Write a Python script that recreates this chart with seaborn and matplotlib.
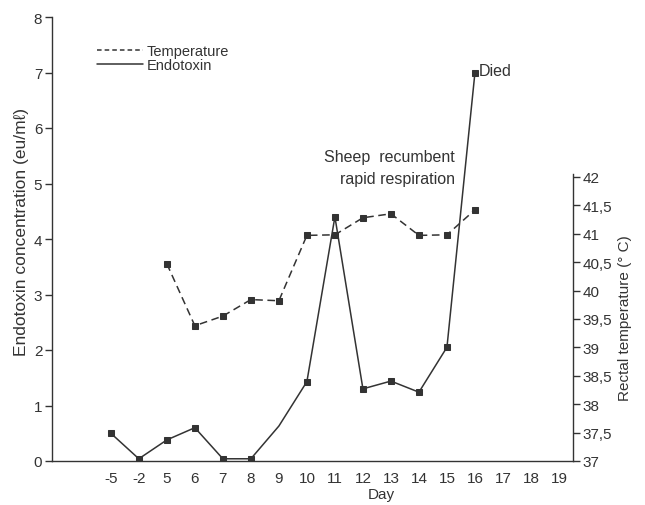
import matplotlib
matplotlib.use("Agg")
import matplotlib.pyplot as plt
import seaborn as sns
import numpy as np
import pandas as pd
from matplotlib.lines import Line2D

# ---- data ----
days = ["-5", "-2", "5", "6", "7", "8", "9", "10", "11", "12", "13", "14", "15", "16", "17", "18", "19"]
endo_days = ["-5", "-2", "5", "6", "7", "8", "9", "10", "11", "12", "13", "14", "15", "16"]
endotoxin = [0.5, 0.04, 0.38, 0.6, 0.04, 0.04, 0.63, 1.43, 4.4, 1.3, 1.44, 1.24, 2.05, 7.0]
endo_marked = [True, True, True, True, True, True, False, True, True, True, True, True, True, True]
temp_days = ["5", "6", "7", "8", "9", "10", "11", "12", "13", "14", "15", "16"]
temperature = [40.47, 39.38, 39.55, 39.84, 39.82, 40.97, 40.98, 41.28, 41.35, 40.97, 40.98, 41.42]
left_ticks = [0, 1, 2, 3, 4, 5, 6, 7, 8]
right_ticks = [37, 37.5, 38, 38.5, 39, 39.5, 40, 40.5, 41, 41.5, 42]
right_ticklabels = ["37", "37,5", "38", "38,5", "39", "39,5", "40", "40,5", "41", "41,5", "42"]

sns.set_theme(style="white")
plt.rcParams["font.family"] = ["Liberation Sans", "DejaVu Sans"]
INK = "#333333"
plt.rcParams["text.color"] = INK
plt.rcParams["axes.labelcolor"] = INK
plt.rcParams["xtick.color"] = INK
plt.rcParams["ytick.color"] = INK

pos = {d: i for i, d in enumerate(days)}
df_e = pd.DataFrame({"x": [pos[d] for d in endo_days], "y": endotoxin})
df_t = pd.DataFrame({"x": [pos[d] for d in temp_days], "y": temperature})

fig = plt.figure(figsize=(6.45, 5.06), dpi=100)
ax = fig.add_axes([52 / 645, 44 / 506, 521 / 645, 444 / 506])
ax2 = ax.twinx()

mk = [i for i, m in enumerate(endo_marked) if m]
sns.lineplot(data=df_e, x="x", y="y", ax=ax, color=INK, linewidth=1.1,
             marker="s", markersize=5, markeredgecolor=INK, markevery=mk)
sns.lineplot(data=df_t, x="x", y="y", ax=ax2, color=INK, linewidth=1.1,
             linestyle=(0, (5, 3)), marker="s", markersize=5, markeredgecolor=INK)

# axes ranges
ax.set_xlim(-2.1, 16.5)
ax.set_ylim(0, 8)
ax2.set_ylim(37, 37 + 5 / 0.64)

ax.set_xticks(range(len(days)))
ax.set_xticklabels(days, fontsize=11)
ax.set_yticks(left_ticks)
ax.set_yticklabels([str(t) for t in left_ticks], fontsize=11)
ax2.set_yticks(right_ticks)
ax2.set_yticklabels(right_ticklabels, fontsize=11)

for a in (ax, ax2):
    a.tick_params(direction="out", length=5, width=1, color=INK, pad=2)
    a.grid(False)
    for s in a.spines.values():
        s.set_color(INK)
        s.set_linewidth(1)

ax.spines["top"].set_visible(False)
ax.spines["right"].set_visible(False)
ax2.spines["top"].set_visible(False)
ax2.spines["left"].set_visible(False)
ax2.spines["bottom"].set_visible(False)
ax2.spines["right"].set_bounds(37, 42.05)

ax.set_xlabel("Day", fontsize=11)
ax.xaxis.set_label_coords(0.633, -0.074)
ax.xaxis.label.set_va("center")
ax.set_ylabel("Endotoxin concentration (eu/mℓ)", fontsize=12.5)
ax.yaxis.set_label_coords(-0.058, 0.518)
ax.yaxis.label.set_va("center")
ax2.set_ylabel("Rectal temperature (° C)", fontsize=11)
ax2.yaxis.set_label_coords(1.1, 0.324)
ax2.yaxis.label.set_va("center")

# annotations
ax.text(12.29, 5.29, "Sheep  recumbent\nrapid respiration", ha="right", va="center",
        fontsize=11.5, multialignment="right", linespacing=1.55)
ax.text(13.14, 7.03, "Died", ha="left", va="center", fontsize=11.5)

handles = [Line2D([], [], color=INK, linewidth=1.1, linestyle=(0, (3, 2))),
           Line2D([], [], color=INK, linewidth=1.1)]
ax.legend(handles, ["Temperature", "Endotoxin"], loc="upper left",
          bbox_to_anchor=(0.086, 0.9395), frameon=False, fontsize=10.5,
          handlelength=3.2, handletextpad=0.25, labelspacing=0.0,
          borderpad=0, borderaxespad=0)

fig.savefig("out.png", dpi=100, facecolor="white")
